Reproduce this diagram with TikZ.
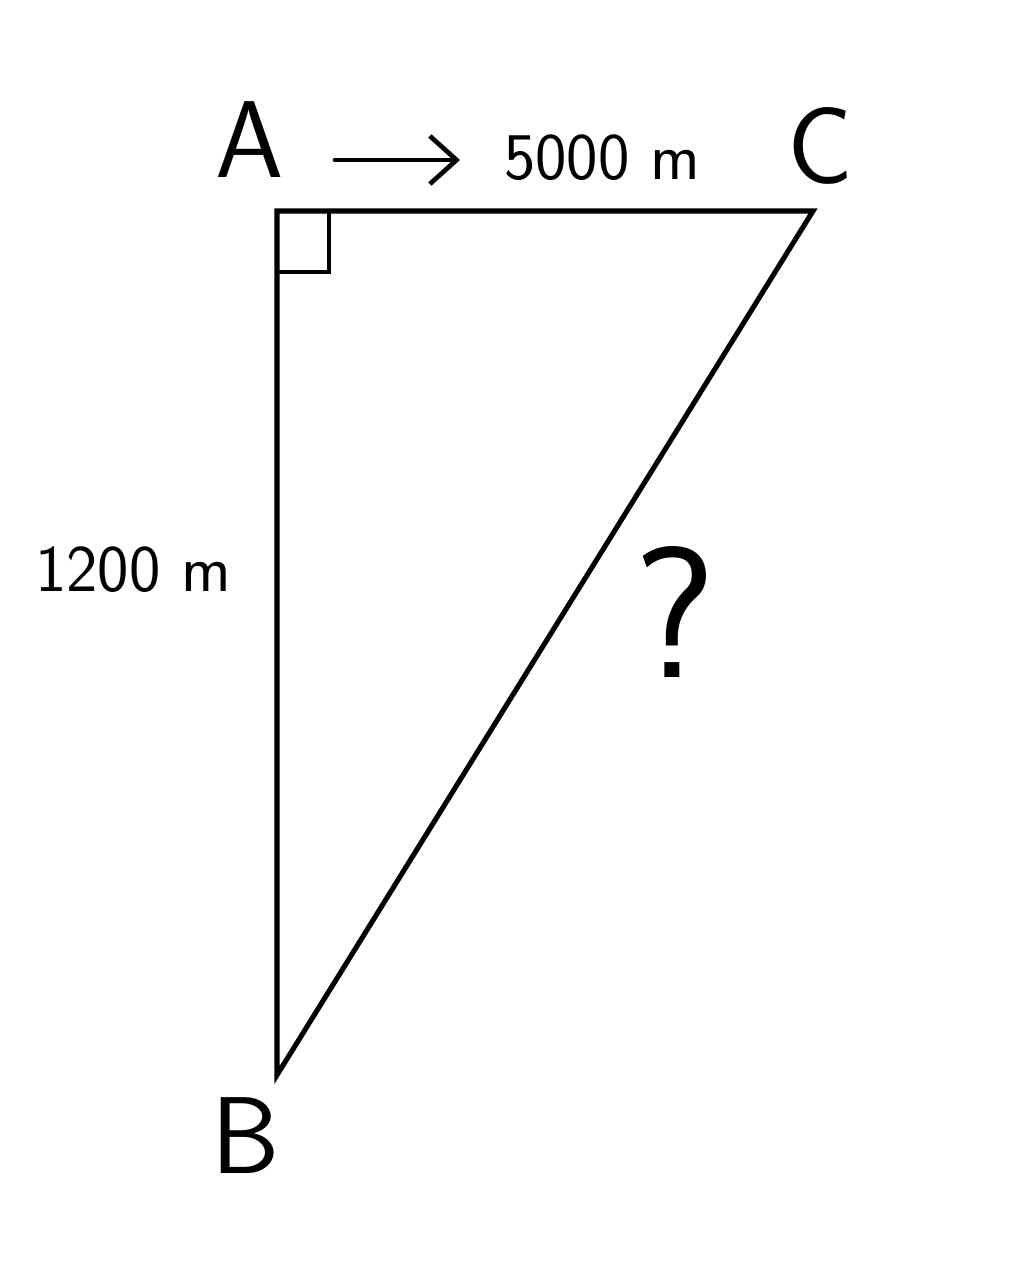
\documentclass[tikz,border=0pt]{standalone}
\usepackage{tikz}
\usetikzlibrary{arrows}
\usetikzlibrary{arrows.meta}
\renewcommand{\familydefault}{\sfdefault}

\begin{document}
\begin{tikzpicture}[x=0.75pt,y=0.75pt,yscale=-1,xscale=1,
  side/.style={line width=3.8pt,line join=miter},
  vtx/.style={inner sep=0.75pt,font=\fontsize{82}{82}\selectfont},
  lenlbl/.style={inner sep=0.75pt,font=\fontsize{50}{50}\selectfont}]
\useasboundingbox (0,0) rectangle (1024,1266);

%Vertices of the triangle
\coordinate (A) at (277,211);
\coordinate (C) at (813,211);
\coordinate (B) at (277,1075);

%Shape: Triangle
\draw [side] (A) -- (C) -- (B) -- cycle ;
%Shape: Square (right angle at A)
\draw [line width=3pt] (277,272) -- (329,272) -- (329,211) ;

%Straight Lines: direction arrow
\coordinate (arrS) at (335,160);
\coordinate (arrE) at (460,160);
\draw [line width=3.5pt,line cap=round,-{Straight Barb[length=20pt,width=36pt,line width=3.5pt]}] (arrS) -- (arrE) ;

% Text Node
\node [vtx] (lblA) at (250,140) {A};
\node [vtx] (lblC) at (820,146) {C};
\node [vtx] (lblB) at (246,1136) {B};
\node [lenlbl] (lblAC) at (602,158) {5000 m};
\node [lenlbl] (lblAB) at (133,570) {1200 m};
\node [inner sep=0.75pt,font=\fontsize{140}{140}\selectfont] (lblBC) at (675,612) {?};

\end{tikzpicture}
\end{document}
